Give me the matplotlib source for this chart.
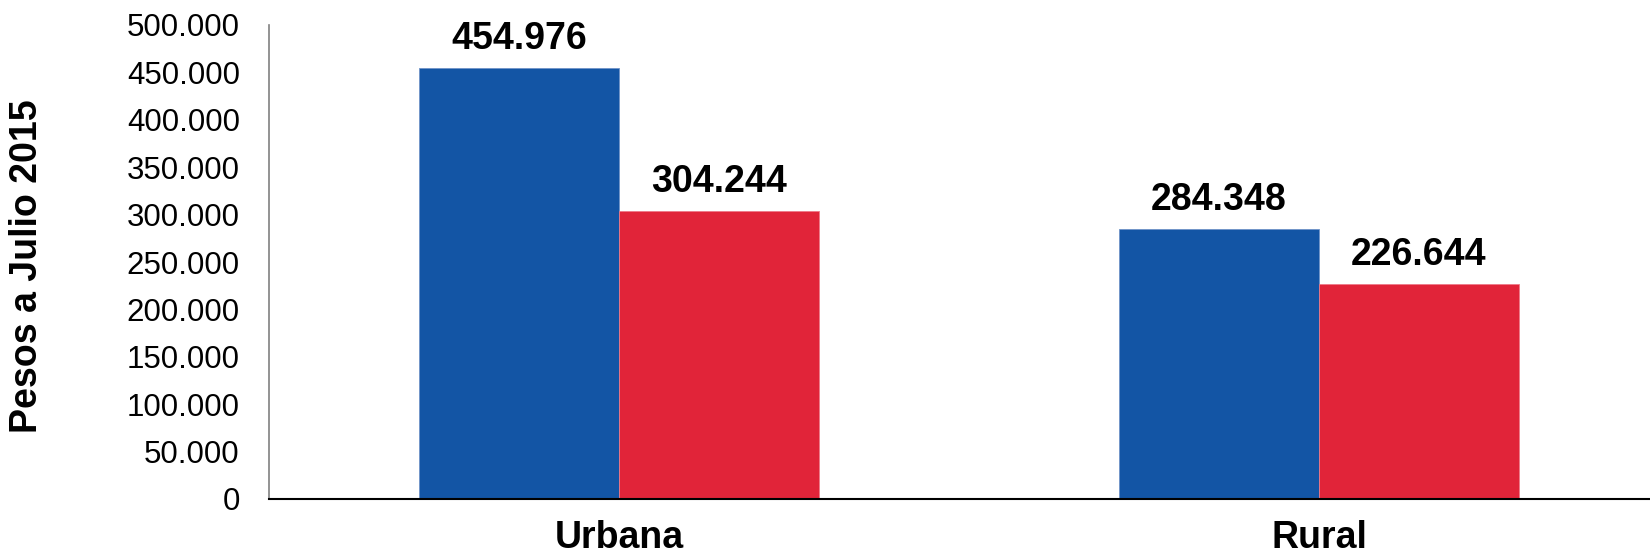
import matplotlib
matplotlib.use("Agg")
import matplotlib.pyplot as plt
import numpy as np

categories = ["Urbana", "Rural"]
serie_1 = [454976, 284348]
serie_2 = [304244, 226644]
yticks = [0, 50000, 100000, 150000, 200000, 250000, 300000, 350000, 400000, 450000, 500000]
ytick_labels = ["0", "50.000", "100.000", "150.000", "200.000", "250.000",
                "300.000", "350.000", "400.000", "450.000", "500.000"]
ylabel = "Pesos a Julio 2015"

plt.rcParams['font.family'] = ['Liberation Sans', 'DejaVu Sans']

W, H = 1650, 558
fig = plt.figure(figsize=(W / 100, H / 100), dpi=100)
ax = fig.add_axes([269 / W, (H - 499) / H, 1400 / W, (499 - 25) / H])

x = np.arange(len(categories))
bw = 200 / 700
blue = "#1355A5"
red = "#E12439"
b1 = ax.bar(x - bw / 2, serie_1, bw, color=blue, edgecolor="#6f93c8", linewidth=0.6)
b2 = ax.bar(x + bw / 2, serie_2, bw, color=red, edgecolor="#ee7a88", linewidth=0.6)

def fmt(v):
    return f"{v:,}".replace(",", ".")

for bars, vals in ((b1, serie_1), (b2, serie_2)):
    for rect, v in zip(bars, vals):
        ax.annotate(fmt(v), (rect.get_x() + rect.get_width() / 2, v),
                    xytext=(0, 13.7), textcoords="offset points",
                    ha="center", va="baseline", fontsize=27, fontweight="bold")

ax.set_xlim(-0.5, 1.5)
ax.set_ylim(0, 500000)
ax.set_yticks(yticks)
ax.set_yticklabels(ytick_labels, fontsize=22.5)
ax.set_xticks(x)
ax.set_xticklabels(categories, fontsize=27, fontweight="bold")
ax.tick_params(axis="y", length=0, pad=21)
ax.tick_params(axis="x", length=0, pad=15)

for s in ("top", "right"):
    ax.spines[s].set_visible(False)
ax.spines["left"].set_color("#808080")
ax.spines["left"].set_linewidth(1.2)
ax.spines["bottom"].set_color("black")
ax.spines["bottom"].set_linewidth(1.5)

fig.text(27.5 / W, (H - 266) / H, ylabel, rotation=90, ha="center", va="center",
         fontsize=27, fontweight="bold")

fig.savefig("out.png", dpi=100)
